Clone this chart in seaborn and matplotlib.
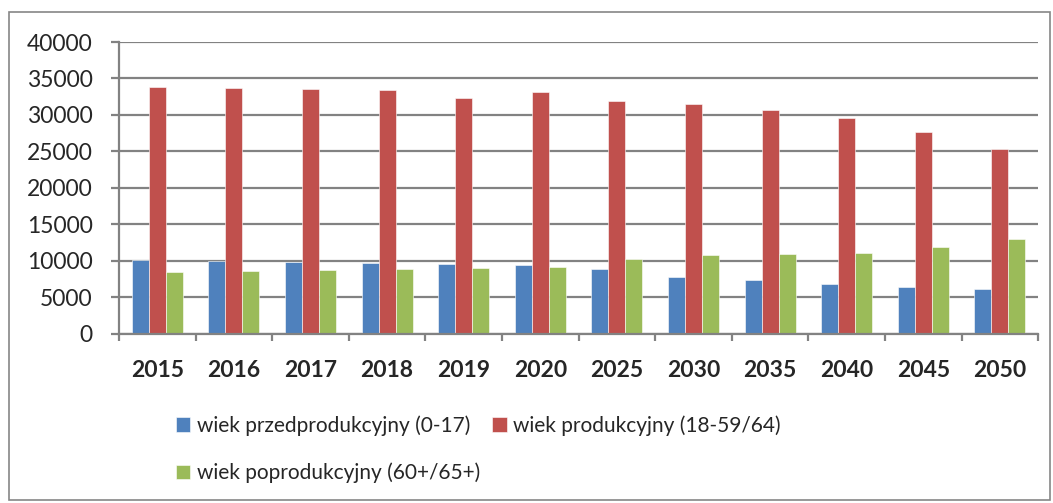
import pandas as pd
import seaborn as sns
import matplotlib.pyplot as plt
from matplotlib.patches import Rectangle

years = ['2015', '2016', '2017', '2018', '2019', '2020',
         '2025', '2030', '2035', '2040', '2045', '2050']
pre_prod = [10150, 10050, 9860, 9730, 9590, 9500, 8860, 7810, 7400, 6850, 6480, 6160]
prod = [33800, 33700, 33560, 33470, 32280, 33150, 31960, 31510, 30640, 29590, 27670, 25300]
post_prod = [8450, 8630, 8770, 8900, 9040, 9180, 10230, 10780, 10960, 11140, 11920, 13060]
series_names = ['wiek przedprodukcyjny (0-17)', 'wiek produkcyjny (18-59/64)',
                'wiek poprodukcyjny (60+/65+)']
colors = ['#4F81BD', '#C0504D', '#9BBB59']

df = pd.DataFrame({
    'rok': years * 3,
    'wartosc': pre_prod + prod + post_prod,
    'grupa': [series_names[0]] * 12 + [series_names[1]] * 12 + [series_names[2]] * 12,
})

sns.set_style('white')
plt.rcParams['font.family'] = ['Lato', 'DejaVu Sans']

fig = plt.figure(figsize=(10.53, 5.03), dpi=100)
ax = fig.add_axes([0.113, 0.336, 0.873, 0.5805])

sns.barplot(data=df, x='rok', y='wartosc', hue='grupa', palette=colors,
            width=0.666, gap=0, saturation=1, edgecolor='white', linewidth=0.4,
            ax=ax, legend=True)

grid_c = '#828282'
ax.set_ylim(0, 40000)
ax.set_yticks(range(0, 40001, 5000))
ax.set_xlim(-0.5, len(years) - 0.5)
ax.yaxis.grid(True, color=grid_c, linewidth=1.6)
ax.set_axisbelow(True)
for s in ['top', 'right']:
    ax.spines[s].set_visible(False)
for s in ['left', 'bottom']:
    ax.spines[s].set_color(grid_c)
    ax.spines[s].set_linewidth(1.6)

# category boundary ticks on x, like the office chart
ax.set_xticks([i - 0.5 for i in range(len(years) + 1)], minor=True)
ax.tick_params(axis='x', which='minor', bottom=True, length=5, width=1.6,
               color=grid_c, direction='out')
ax.tick_params(axis='x', which='major', bottom=True, length=0, pad=19, labelsize=16.5)
ax.tick_params(axis='y', left=True, length=6, width=1.6, color=grid_c,
               labelsize=16.5, pad=13)
for lab in ax.get_xticklabels():
    lab.set_fontweight('bold')
ax.set_xlabel('')
ax.set_ylabel('')

handles, labels = ax.get_legend_handles_labels()
ax.get_legend().remove()
order = [0, 2, 1]
fig.legend([handles[i] for i in order], [labels[i] for i in order],
           ncol=2, loc='upper left', bbox_to_anchor=(0.167, 0.175),
           frameon=False, fontsize=15, handlelength=0.7, handleheight=0.7,
           handletextpad=0.3, columnspacing=0.6, labelspacing=1.3,
           borderaxespad=0, borderpad=0)

fig.patches.append(Rectangle((9 / 1053, 3 / 503), 1041 / 1053, 488 / 503,
                             transform=fig.transFigure, fill=False,
                             edgecolor='#868686', linewidth=1.2))

fig.savefig('out.png', dpi=100)
